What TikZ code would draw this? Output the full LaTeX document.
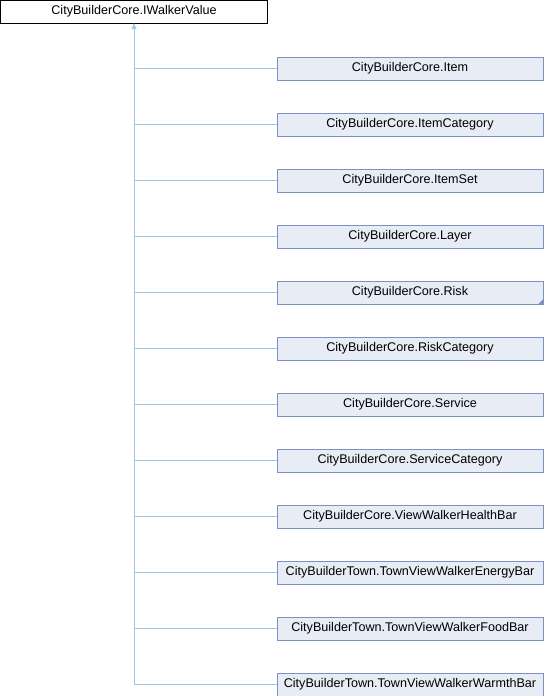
\documentclass[tikz,border=0pt]{standalone}
\usepackage{fontspec}
\setmainfont{Liberation Sans}
\usetikzlibrary{arrows.meta}

\definecolor{boxfill}{HTML}{E8ECF5}
\definecolor{boxdraw}{HTML}{7C92C6}
\definecolor{linkblue}{HTML}{9DCBE6}

\tikzstyle{base} = [rectangle, minimum width=267pt, minimum height=23pt, inner sep=0pt, text centered, draw=black, fill=white, font=\fontsize{12.6}{14}\selectfont]
\tikzstyle{block} = [rectangle, minimum width=266pt, minimum height=23pt, inner sep=0pt, text centered, draw=boxdraw, fill=boxfill, font=\fontsize{12.6}{14}\selectfont]
\tikzstyle{link} = [linkblue, line width=0.8pt]
\tikzstyle{arrow} = [linkblue, line width=0.8pt, -{Triangle[length=6pt,width=5pt]}]

\begin{document}
\begin{tikzpicture}[x=1pt, y=1pt, node distance=56pt]

    \useasboundingbox (0,0) rectangle (544,-696);

    % Draw nodes
    \node (walker) [base] at (134,-11.5) {CityBuilderCore.IWalkerValue};
    \node (item) [block] at (410,-68.5) {CityBuilderCore.Item};
    \node (itemcat) [block, below of=item] {CityBuilderCore.ItemCategory};
    \node (itemset) [block, below of=itemcat] {CityBuilderCore.ItemSet};
    \node (layer) [block, below of=itemset] {CityBuilderCore.Layer};
    \node (risk) [block, below of=layer] {CityBuilderCore.Risk};
    \node (riskcat) [block, below of=risk] {CityBuilderCore.RiskCategory};
    \node (service) [block, below of=riskcat] {CityBuilderCore.Service};
    \node (servicecat) [block, below of=service] {CityBuilderCore.ServiceCategory};
    \node (health) [block, below of=servicecat] {CityBuilderCore.ViewWalkerHealthBar};
    \node (energy) [block, below of=health] {CityBuilderTown.TownViewWalkerEnergyBar};
    \node (food) [block, below of=energy] {CityBuilderTown.TownViewWalkerFoodBar};
    \node (warmth) [block, below of=food] {CityBuilderTown.TownViewWalkerWarmthBar};

    % more children marker
    \fill [boxdraw] (risk.south east) -- ++(-5,0) -- ++(5,5) -- cycle;

    % Draw connections
    \draw [arrow] (warmth.west) -| (walker.south);
    \draw [link] (item.west) -- (item.west -| walker.south);
    \draw [link] (itemcat.west) -- (itemcat.west -| walker.south);
    \draw [link] (itemset.west) -- (itemset.west -| walker.south);
    \draw [link] (layer.west) -- (layer.west -| walker.south);
    \draw [link] (risk.west) -- (risk.west -| walker.south);
    \draw [link] (riskcat.west) -- (riskcat.west -| walker.south);
    \draw [link] (service.west) -- (service.west -| walker.south);
    \draw [link] (servicecat.west) -- (servicecat.west -| walker.south);
    \draw [link] (health.west) -- (health.west -| walker.south);
    \draw [link] (energy.west) -- (energy.west -| walker.south);
    \draw [link] (food.west) -- (food.west -| walker.south);

\end{tikzpicture}
\end{document}
